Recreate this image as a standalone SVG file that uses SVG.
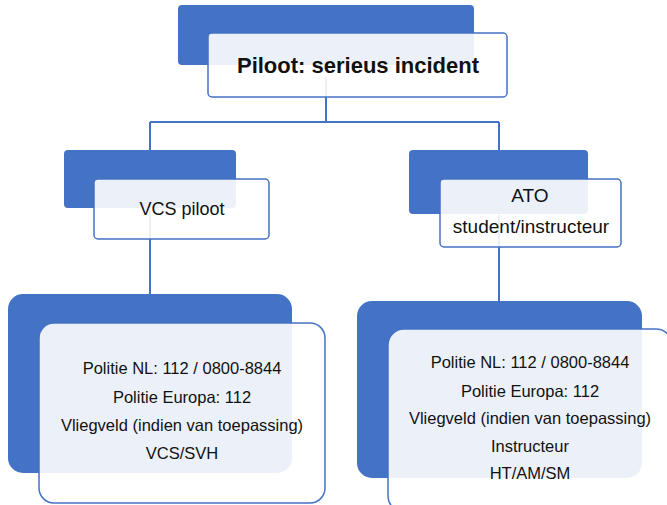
<svg xmlns="http://www.w3.org/2000/svg" width="667" height="505" viewBox="0 0 667 505">
<style>
.back{fill:#4472C4;}
.front{fill:#FFFFFF;fill-opacity:0.9;stroke:#4472C4;stroke-width:1.5;}
.conn{fill:none;stroke:#4472C4;stroke-width:2;}
text{font-family:"Liberation Sans",Arial,sans-serif;fill:#111111;text-anchor:middle;}
.t1{font-size:22px;font-weight:bold;}
.t2{font-size:18px;}
.t2b{font-size:19px;}
.t3{font-size:16.5px;}
</style>
<rect width="667" height="505" fill="#FFFFFF"/>
<g id="backs">
<rect class="back" x="178" y="5" width="296" height="60" rx="4"/>
<rect class="back" x="64" y="150" width="172" height="58" rx="4"/>
<rect class="back" x="409" y="150" width="179" height="64" rx="4"/>
<rect class="back" x="8" y="294" width="284" height="179" rx="15"/>
<rect class="back" x="357" y="301" width="285" height="177" rx="15"/>
</g>
<g id="connectors">
<path class="conn" d="M326 77 V122 M150 122 H499 M150 122 V150 M499 122 V150"/>
<path class="conn" d="M150 210 V294"/>
<path class="conn" d="M499 215 V301"/>
</g>
<g id="n-root">
<rect class="front" x="208" y="33" width="299" height="64" rx="4"/>
<text class="t1" x="358" y="73">Piloot: serieus incident</text>
</g>
<g id="n-vcs">
<rect class="front" x="94" y="179" width="175" height="60" rx="4"/>
<text class="t2" x="182" y="215">VCS piloot</text>
</g>
<g id="n-ato">
<rect class="front" x="440" y="179" width="181" height="68" rx="4"/>
<text class="t2b" x="530" y="202">ATO</text>
<text class="t2b" x="531" y="233">student/instructeur</text>
</g>
<g id="n-vcs-contacts">
<rect class="front" x="39" y="323" width="286" height="180" rx="15"/>
<text class="t3" x="182" y="374">Politie NL: 112 / 0800-8844</text>
<text class="t3" x="182" y="403">Politie Europa: 112</text>
<text class="t3" x="182" y="431">Vliegveld (indien van toepassing)</text>
<text class="t3" x="182" y="459">VCS/SVH</text>
</g>
<g id="n-ato-contacts">
<rect class="front" x="388" y="329" width="284" height="183" rx="16"/>
<text class="t3" x="530" y="368">Politie NL: 112 / 0800-8844</text>
<text class="t3" x="530" y="397">Politie Europa: 112</text>
<text class="t3" x="530" y="424">Vliegveld (indien van toepassing)</text>
<text class="t3" x="530" y="452">Instructeur</text>
<text class="t3" x="530" y="479">HT/AM/SM</text>
</g>
</svg>
